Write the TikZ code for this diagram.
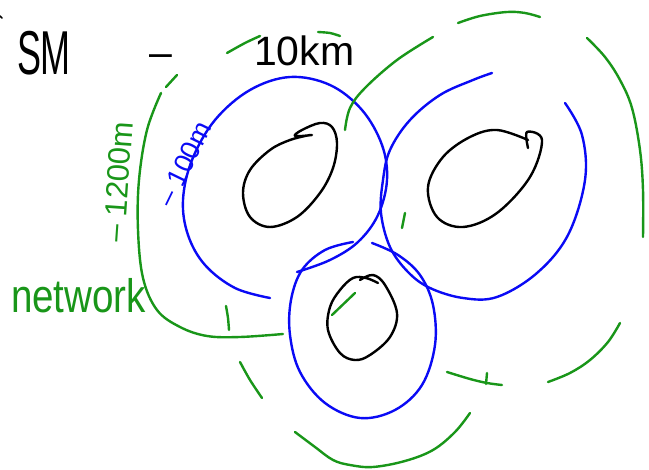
\documentclass[tikz,border=0pt]{standalone}
\usepackage{fontspec}
\setmainfont{Liberation Sans}
\definecolor{pengreen}{RGB}{25,150,25}
\definecolor{penblue}{RGB}{10,10,245}
\definecolor{penblack}{RGB}{0,0,0}
\tikzset{
  stroke/.style={line width=2.4pt, line cap=round, line join=round},
  bluestroke/.style={stroke, draw=penblue},
  greenstroke/.style={stroke, draw=pengreen},
  blackstroke/.style={stroke, draw=penblack},
  handtext/.style={inner sep=0pt, outer sep=0pt}
}
\begin{document}
\begin{tikzpicture}[x=1pt,y=-1pt]
\useasboundingbox[fill=white] (0,0) rectangle (649,470);

% ---- black text ----
\node[handtext, anchor=base west, xscale=0.58, text=penblack] (sm) at (17,75) {\fontsize{62}{62}\selectfont SM};
\node[handtext, anchor=base, text=penblack] (dash) at (161,67) {\fontsize{41}{41}\selectfont –};
\node[handtext, anchor=base west, text=penblack] (tenkm) at (254,66) {\fontsize{41}{41}\selectfont 10km};
\draw[blackstroke, line width=1.5pt] (0,16) -- (2,18);

% ---- green text ----
\node[handtext, rotate=86, text=pengreen] (greenlabel) at (118,182) {\fontsize{31}{31}\selectfont – 1200m};
\node[handtext, anchor=base west, xscale=0.82, text=pengreen] (network) at (11,313) {\fontsize{47}{47}\selectfont network};

% ---- blue text ----
\node[handtext, rotate=64, text=penblue] (bluelabel) at (184,164) {\fontsize{27}{27}\selectfont – 100m};

% ---- blue circles ----
\draw[bluestroke] plot[smooth, tension=0.6] coordinates {
  (270,298) (235,288) (205,265) (188,235) (183,200) (192,160) (215,120) (250,90)
  (290,77) (330,85) (362,110) (382,145) (387,180) (378,215) (358,242) (330,260) (297,272)};
\draw[bluestroke] plot[smooth, tension=0.6] coordinates {
  (353,242) (325,250) (302,270) (291,300) (290,335) (300,372) (325,403) (360,418)
  (395,410) (422,385) (435,345) (433,305) (420,275) (398,255) (372,243)};
\draw[bluestroke] plot[smooth, tension=0.6] coordinates {
  (492,73) (473,80) (440,95) (410,120) (390,150) (383,180) (381,213) (390,247)
  (408,272) (430,288) (463,298) (497,297) (537,273) (568,235) (585,180) (582,135) (565,103)};

% ---- black eggs ----
\draw[blackstroke] plot[smooth, tension=0.6] coordinates {
  (312,135) (295,136) (302,130) (320,123) (332,127) (337,143) (333,168) (320,193)
  (297,217) (270,227) (250,217) (243,193) (250,170) (270,150) (290,140) (310,135)};
\draw[blackstroke] plot[smooth, tension=0.6] coordinates {
  (528,148) (527,132) (542,140) (530,177) (497,213) (463,227) (437,217) (428,187)
  (443,157) (470,137) (497,130) (528,140)};
\draw[blackstroke] plot[smooth, tension=0.6] coordinates {
  (360,280) (373,275) (385,285) (397,313) (390,337) (370,355) (355,360) (340,353)
  (328,330) (330,307) (340,290) (353,278) (366,278) (378,283)};

% ---- green dashed outlines ----
\draw[greenstroke] (177,75) -- (166,87);
\draw[greenstroke] plot[smooth, tension=0.6] coordinates {
  (161,93) (147,130) (139,180) (138,230) (143,278) (157,310) (180,327) (207,336)
  (240,337) (283,334)};
\draw[greenstroke] plot[smooth] coordinates {(226,306) (228,318) (229,330)};
\draw[greenstroke] plot[smooth] coordinates {(227,53) (245,43) (260,36)};
\draw[greenstroke] plot[smooth] coordinates {(318,32) (330,33) (340,36)};
\draw[greenstroke] plot[smooth, tension=0.6] coordinates {
  (345,130) (350,108) (365,88) (397,60) (433,37)};
\draw[greenstroke] plot[smooth, tension=0.6] coordinates {
  (458,23) (480,16) (507,12) (525,13) (540,17)};
\draw[greenstroke] plot[smooth, tension=0.6] coordinates {
  (587,38) (605,57) (620,80) (632,108) (640,150) (643,190) (643,237)};
\draw[greenstroke] plot[smooth, tension=0.6] coordinates {
  (620,323) (608,342) (590,360) (570,373) (548,382)};
\draw[greenstroke] plot[smooth, tension=0.6] coordinates {
  (502,385) (487,383) (470,379) (447,372)};
\draw[greenstroke] (487,373) -- (486,384);
\draw[greenstroke] plot[smooth, tension=0.6] coordinates {
  (470,413) (455,432) (433,450) (405,461) (373,467) (350,465) (333,460) (315,447) (295,432)};
\draw[greenstroke] plot[smooth] coordinates {(240,362) (250,380) (262,398)};
\draw[greenstroke] (332,315) -- (355,293);
\draw[greenstroke] (405,213) -- (402,228);
\end{tikzpicture}
\end{document}
